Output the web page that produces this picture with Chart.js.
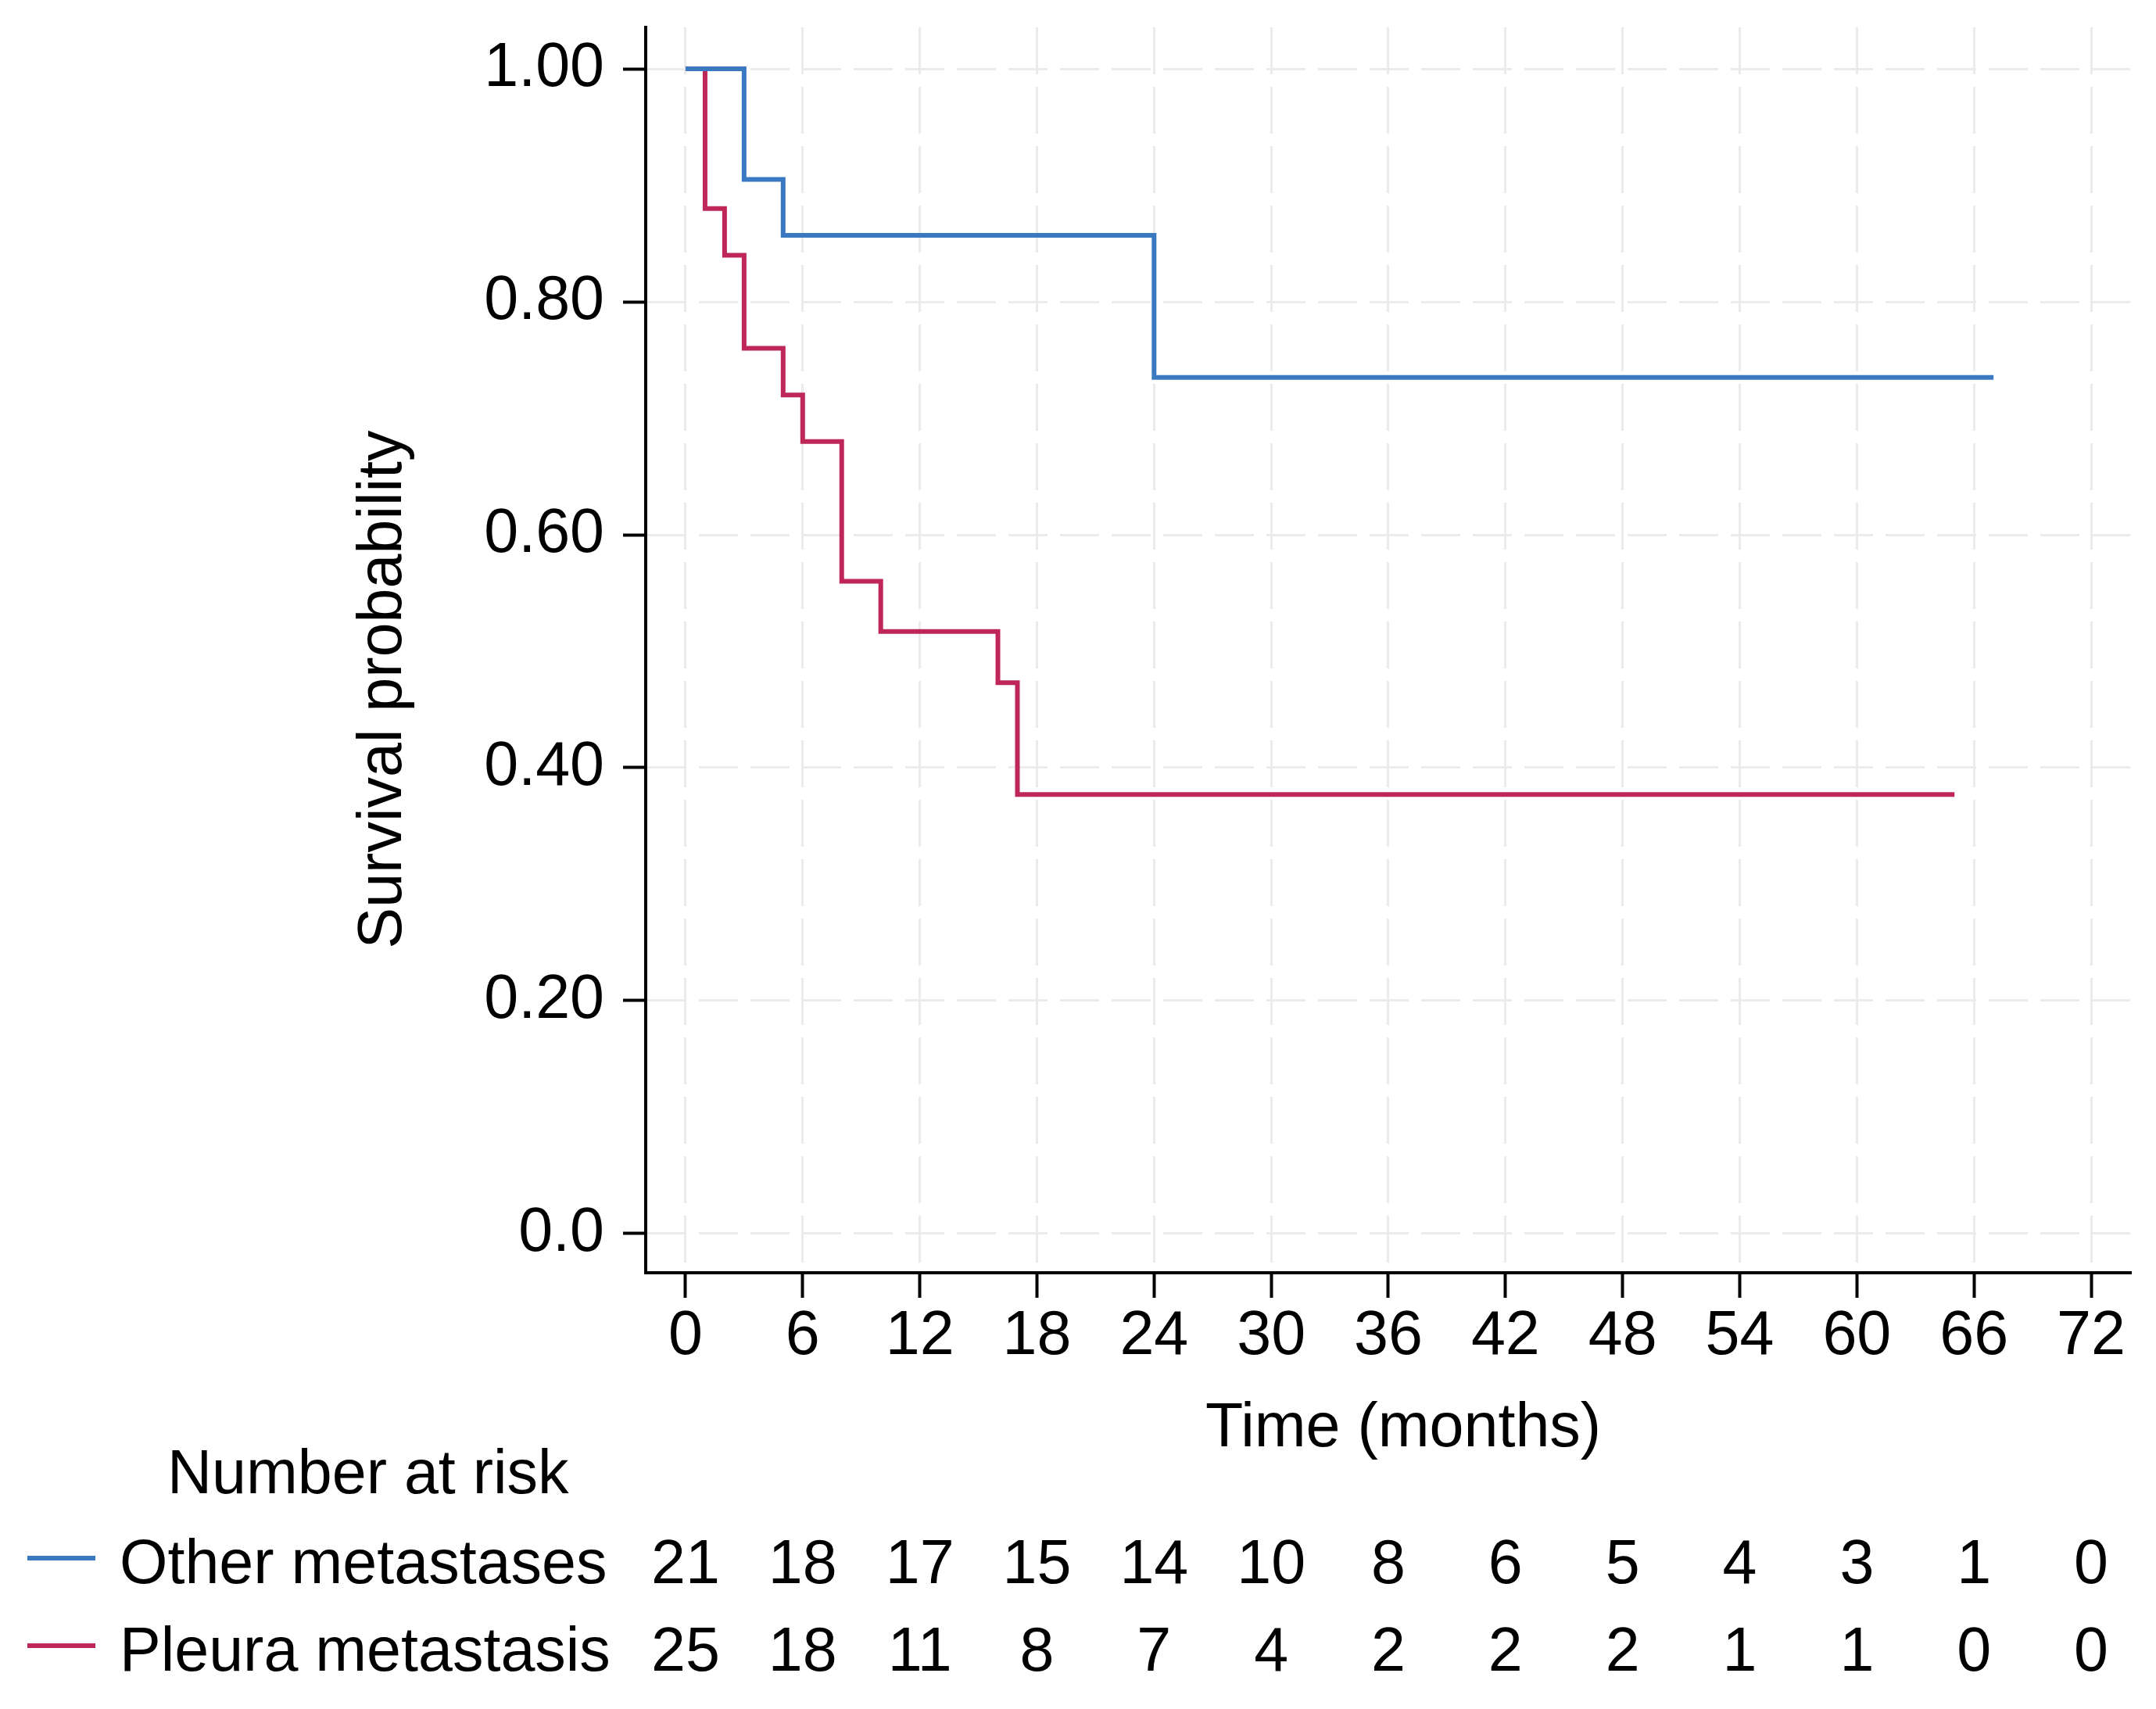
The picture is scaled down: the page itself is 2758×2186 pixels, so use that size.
<!DOCTYPE html>
<html>
<head>
<meta charset="utf-8">
<title>Kaplan-Meier: pleura vs other metastases</title>
<script src="https://cdn.jsdelivr.net/npm/chart.js@4.4.1/dist/chart.umd.min.js"></script>
<style>
  html, body { margin: 0; padding: 0; background: #ffffff; overflow: hidden; }
  #wrap { width: 2758px; height: 2186px; }
</style>
</head>
<body>
<div id="wrap"><canvas id="km" width="2758" height="2186"></canvas></div>
<script>
// --- data ---
const xTicks = [0, 6, 12, 18, 24, 30, 36, 42, 48, 54, 60, 66, 72];
const yTicks = [0, 0.2, 0.4, 0.6, 0.8, 1.0];
const yTickLabels = ['0.0', '0.20', '0.40', '0.60', '0.80', '1.00'];

const groupNames = ['Other metastases', 'Pleura metastasis'];

// step times (months) and survival after each step
const otherTimes = [0, 3, 5, 24, 67];
const otherSurv = [1.0, 0.905, 0.857, 0.735, 0.735];
const pleuraTimes = [0, 1, 2, 3, 5, 6, 8, 10, 16, 17, 65];
const pleuraSurv = [1.0, 0.88, 0.84, 0.76, 0.72, 0.68, 0.56, 0.517, 0.473, 0.377, 0.377];

// number at risk at each x tick
const otherAtRisk = [21, 18, 17, 15, 14, 10, 8, 6, 5, 4, 3, 1, 0];
const pleuraAtRisk = [25, 18, 11, 8, 7, 4, 2, 2, 2, 1, 1, 0, 0];

const BLUE = '#3a79c2';
const RED = '#bf2758';
const FONT = '"Liberation Sans", Arial, Helvetica, sans-serif';
const FONT_SIZE = 79;

function toPoints(times, surv) {
  return times.map((t, i) => ({ x: t, y: surv[i] }));
}

/**
 * Titles and the number-at-risk table, placed off the chart's own x scale
 */
const riskTablePlugin = {
  id: 'riskTable',
  afterDraw(chart) {
    const ctx = chart.ctx;
    const xs = chart.scales.x;
    ctx.save();
    ctx.fillStyle = '#000000';
    ctx.font = FONT_SIZE + 'px ' + FONT;
    ctx.textBaseline = 'alphabetic';

    // y title
    ctx.save();
    ctx.translate(513, 882);
    ctx.rotate(-Math.PI / 2);
    ctx.textAlign = 'center';
    ctx.fillText('Survival probability', 0, 0);
    ctx.restore();

    // x title
    ctx.textAlign = 'center';
    ctx.fillText('Time (months)', 1795, 1850);

    // table heading
    ctx.textAlign = 'left';
    ctx.fillText('Number at risk', 214, 1910);

    const rows = [
      { name: groupNames[0], color: BLUE, counts: otherAtRisk, base: 2025, lineY: 1993 },
      { name: groupNames[1], color: RED, counts: pleuraAtRisk, base: 2137, lineY: 2105 }
    ];
    rows.forEach(row => {
      ctx.strokeStyle = row.color;
      ctx.lineWidth = 6;
      ctx.beginPath();
      ctx.moveTo(35, row.lineY);
      ctx.lineTo(122, row.lineY);
      ctx.stroke();

      ctx.textAlign = 'left';
      ctx.fillText(row.name, 153, row.base);
      ctx.textAlign = 'center';
      row.counts.forEach((n, i) => {
        ctx.fillText(String(n), xs.getPixelForValue(xTicks[i]), row.base);
      });
    });
    ctx.restore();
  }
};

const chart = new Chart(document.getElementById('km').getContext('2d'), {
  type: 'line',
  data: {
    datasets: [{
      label: groupNames[0],
      data: toPoints(otherTimes, otherSurv),
      borderColor: BLUE,
      borderWidth: 6,
      stepped: 'before',
      pointRadius: 0,
      fill: false
    }, {
      label: groupNames[1],
      data: toPoints(pleuraTimes, pleuraSurv),
      borderColor: RED,
      borderWidth: 6,
      stepped: 'before',
      pointRadius: 0,
      fill: false
    }]
  },
  options: {
    responsive: false,
    devicePixelRatio: 1,
    animation: false,
    layout: { padding: { left: 0, top: 35, right: 33, bottom: 438 } },
    plugins: {
      legend: { display: false },
      tooltip: { enabled: false }
    },
    scales: {
      x: {
        type: 'linear',
        min: -2.04,
        max: 74,
        afterBuildTicks: (s) => { s.ticks = xTicks.map(v => ({ value: v })); },
        afterFit: (s) => { s.height = 120; s.paddingLeft = 0; s.paddingRight = 0; },
        grid: {
          color: '#ebebeb',
          lineWidth: 3,
          tickColor: '#000000',
          tickWidth: 4,
          tickLength: 32,
          tickBorderDash: []
        },
        border: { display: true, color: '#000000', width: 4, dash: [60, 16] },
        ticks: {
          autoSkip: false,
          maxRotation: 0,
          padding: 3,
          color: '#000000',
          font: { family: FONT, size: FONT_SIZE }
        }
      },
      y: {
        type: 'linear',
        min: -0.0336,
        max: 1.0356,
        afterBuildTicks: (s) => { s.ticks = yTicks.map(v => ({ value: v })); },
        afterFit: (s) => { s.width = 826; s.paddingTop = 0; s.paddingBottom = 0; },
        grid: {
          color: '#ebebeb',
          lineWidth: 3,
          tickColor: '#000000',
          tickWidth: 4,
          tickLength: 29,
          tickBorderDash: []
        },
        border: { display: true, color: '#000000', width: 4, dash: [50, 16] },
        ticks: {
          autoSkip: false,
          padding: 24,
          color: '#000000',
          font: { family: FONT, size: FONT_SIZE },
          callback: (value, index) => yTickLabels[index]
        }
      }
    }
  },
  plugins: [riskTablePlugin]
});
</script>
</body>
</html>
